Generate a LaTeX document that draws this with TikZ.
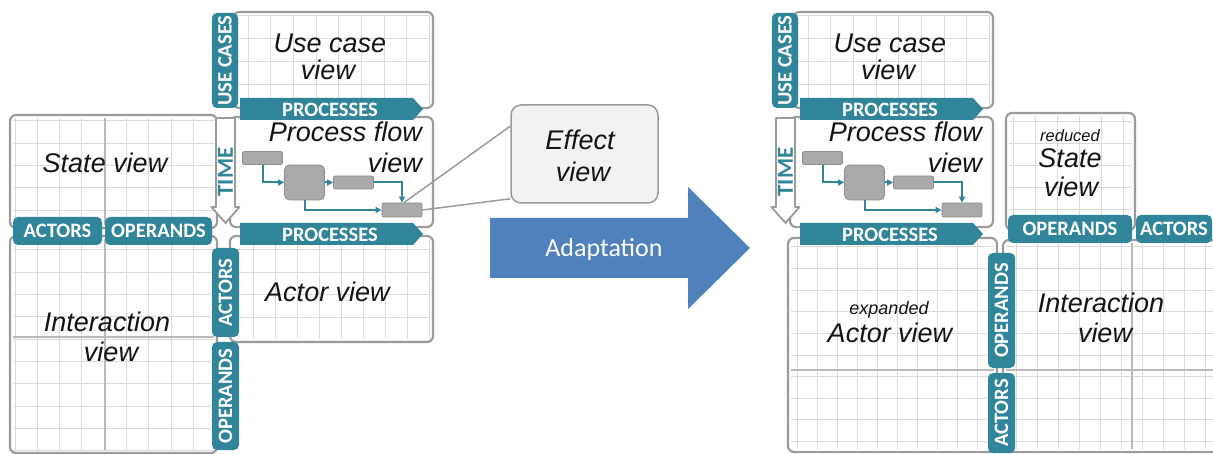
\documentclass[tikz,border=0pt]{standalone}
\usepackage{fontspec}
\newfontfamily\tabf{Carlito}
\newfontfamily\labf{Liberation Sans}
\usetikzlibrary{arrows.meta,calc}
\definecolor{tealc}{RGB}{49,133,155}
\definecolor{boxc}{RGB}{155,155,155}
\definecolor{gridc}{RGB}{218,218,218}
\definecolor{divc}{RGB}{185,185,185}
\definecolor{procc}{RGB}{170,170,170}
\definecolor{procd}{RGB}{140,140,140}
\definecolor{adapc}{RGB}{79,129,189}
\definecolor{effc}{RGB}{242,242,242}
\definecolor{txtc}{RGB}{20,20,20}
\newcommand\tabfnt{\tabf\bfseries\fontsize{20.5}{20.5}\selectfont}
\tikzset{
 viewbox/.style={draw=boxc, line width=2.2pt, rounded corners=6pt, fill=white},
 gridln/.style={draw=gridc, line width=1pt},
 divln/.style={draw=divc, line width=2pt},
 tabbox/.style={fill=tealc, rounded corners=5pt, text=white, font=\tabfnt, inner sep=0pt},
 tabtxt/.style={text=white, font=\tabfnt, inner sep=0pt},
 lbl/.style={font=\labf\itshape\fontsize{27}{27}\selectfont, text=txtc, anchor=base, inner sep=0pt},
 smalllbl/.style={font=\labf\itshape\fontsize{17}{17}\selectfont, text=txtc, anchor=base, inner sep=0pt},
 procbox/.style={draw=procd, fill=procc, line width=0.8pt, rounded corners=2pt, inner sep=0pt},
 flow/.style={draw=tealc, line width=2pt, -{Triangle[length=6pt,width=6pt]}},
 callln/.style={draw=boxc, line width=1.5pt},
 timearrow/.style={draw=boxc, fill=white, line width=1.8pt, line join=round},
}
% #1 x1, #2 y1, #3 x2, #4 y2, #5 first x line, #6 first y line, #7 dx, #8 dy
\newcommand\gridin[8]{%
 \begin{scope}
 \clip (#1,#2) rectangle (#3,#4);
 \foreach \k in {0,...,14}{
  \draw[gridln] (#5+\k*#7,#2) -- (#5+\k*#7,#4);
  \draw[gridln] (#1,#6+\k*#8) -- (#3,#6+\k*#8);
 }
 \end{scope}}
\newcommand\topcol[1]{%
 \draw[viewbox] (233,12) rectangle (433,108);
 \gridin{236}{15}{430}{105}{248}{15.5}{22.7}{23}
 \node[lbl] (#1uc1) at (330,53) {Use case};
 \node[lbl] (#1uc2) at (328,80) {view};
 \node[tabbox, rotate=90, minimum width=95, minimum height=26] (#1uc) at (225,60.5) {USE CASES};
 \draw[viewbox] (230,117) rectangle (433,227);
 \path[fill=tealc] (240,98) -- (413,98) -- (423,109) -- (413,120) -- (240,120) -- cycle;
 \node[tabtxt] (#1p1) at (330,109.5) {PROCESSES};
 \node[lbl, anchor=base east] (#1pf1) at (422,142) {Process flow};
 \node[lbl, anchor=base east] (#1pf2) at (422,173) {view};
 \node[procbox, minimum width=40, minimum height=13] (#1r1) at (262.5,158) {};
 \node[procbox, minimum width=40, minimum height=35, rounded corners=5pt] (#1rb) at (304.5,182.5) {};
 \node[procbox, minimum width=40, minimum height=13] (#1r3) at (353.5,182.5) {};
 \node[procbox, minimum width=40, minimum height=14] (#1r4) at (402,210) {};
 \draw[flow] (#1r1.south) |- (#1rb.west);
 \draw[flow] (#1rb.east) -- (#1r3.west);
 \draw[flow] (#1r3.east) -| (#1r4.north);
 \draw[flow] (#1rb.south) |- (#1r4.west);
 \path[timearrow] (216,118) -- (235,118) -- (235,207) -- (239.5,207) -- (225.5,223) -- (211.5,207) -- (216,207) -- cycle;
 \node[text=tealc, font=\tabf\bfseries\fontsize{23}{23}\selectfont, rotate=90, inner sep=0pt] (#1time) at (225.5,172) {TIME};
 \path[fill=tealc] (240,223) -- (413,223) -- (423,234) -- (413,245) -- (240,245) -- cycle;
 \node[tabtxt] (#1p2) at (330,234.5) {PROCESSES};
}
\begin{document}
\begin{tikzpicture}[x=1pt,y=-1pt]
\useasboundingbox (0,0) rectangle (1213,454);

% ---------------- LEFT ----------------
% State view
\draw[viewbox] (10,115) rectangle (217,228);
\gridin{13}{118}{214}{225}{15}{121}{22.3}{22.3}
\draw[divln] (105,118) -- (105,225);
\node[lbl] (lstate) at (105,173) {State view};
% Interaction view
\draw[viewbox] (10,236) rectangle (217,453);
\gridin{13}{239}{214}{450}{15}{250}{22.3}{22.3}
\draw[divln] (105,239) -- (105,450);
\draw[divln] (13,337) -- (214,337);
\node[lbl] (linter1) at (107,332) {Interaction};
\node[lbl] (linter2) at (111,362) {view};
% Actor view
\draw[viewbox] (230,236) rectangle (433,342);
\gridin{233}{239}{430}{339}{253}{250}{22}{22.5}
\node[lbl] (lactor) at (327.5,302) {Actor view};

\topcol{l}

\node[tabbox, minimum width=89, minimum height=28] (lact) at (57.5,231) {ACTORS};
\node[tabbox, minimum width=107, minimum height=28] (lope) at (158.5,231) {OPERANDS};
\node[tabbox, rotate=90, minimum width=89, minimum height=27] (lvact) at (225.5,292.5) {ACTORS};
\node[tabbox, rotate=90, minimum width=108, minimum height=27] (lvope) at (225.5,396) {OPERANDS};

% ---------------- EFFECT VIEW ----------------
\node[draw=boxc, fill=effc, line width=1.5pt, rounded corners=10pt, minimum width=147, minimum height=98, inner sep=0pt] (eff) at (584.5,154) {};
\draw[callln] ([xshift=2pt]lr4.north) -- ($(eff.north west)!0.22!(eff.south west)$);
\draw[callln] (lr4.east) -- ($(eff.north west)!0.95!(eff.south west)$);
\node[lbl] (eff1) at (580,150) {Effect};
\node[lbl] (eff2) at (583,182) {view};

% ---------------- ADAPTATION ----------------
\path[fill=adapc] (490,218) -- (688,218) -- (688,187) -- (750,248) -- (688,309) -- (688,278) -- (490,278) -- cycle;
\node[font=\tabf\fontsize{26}{26}\selectfont, text=white, anchor=base, inner sep=0pt] (adapt) at (604,257) {Adaptation};

% ---------------- RIGHT ----------------
% expanded Actor view
\draw[viewbox] (788,238) rectangle (997,452);
\gridin{791}{241}{994}{449}{797}{247}{20}{21.6}
\draw[divln] (791,370) -- (994,370);
\node[smalllbl, font=\labf\itshape\fontsize{18}{18}\selectfont] (rexp) at (889,315) {expanded};
\node[lbl] (ractor) at (890,342) {Actor view};
% Interaction view
\draw[viewbox] (1003,240) rectangle (1240,452);
\gridin{1006}{243}{1237}{449}{1016}{247}{21}{21.6}
\draw[divln] (1132,243) -- (1132,449);
\draw[divln] (1006,370) -- (1237,370);
\node[lbl] (rinter1) at (1101,313) {Interaction};
\node[lbl] (rinter2) at (1105,343) {view};
% reduced State view
\draw[viewbox] (1006,113) rectangle (1135,230);
\gridin{1009}{116}{1132}{227}{1013}{122}{22}{22}
\node[smalllbl, font=\labf\itshape\fontsize{16.5}{16.5}\selectfont] (rred) at (1070,142) {reduced};
\node[lbl] (rstate1) at (1070,168) {State};
\node[lbl] (rstate2) at (1071,197) {view};

\begin{scope}[xshift=560]
\topcol{r}
\end{scope}

\node[tabbox, minimum width=124, minimum height=28] (rope) at (1070,229) {OPERANDS};
\node[tabbox, minimum width=76, minimum height=28] (ract) at (1174,229) {ACTORS};
\node[tabbox, rotate=90, minimum width=115, minimum height=27] (rvope) at (1001.5,310.5) {OPERANDS};
\node[tabbox, rotate=90, minimum width=80, minimum height=27] (rvact) at (1001.5,413) {ACTORS};
\end{tikzpicture}
\end{document}
